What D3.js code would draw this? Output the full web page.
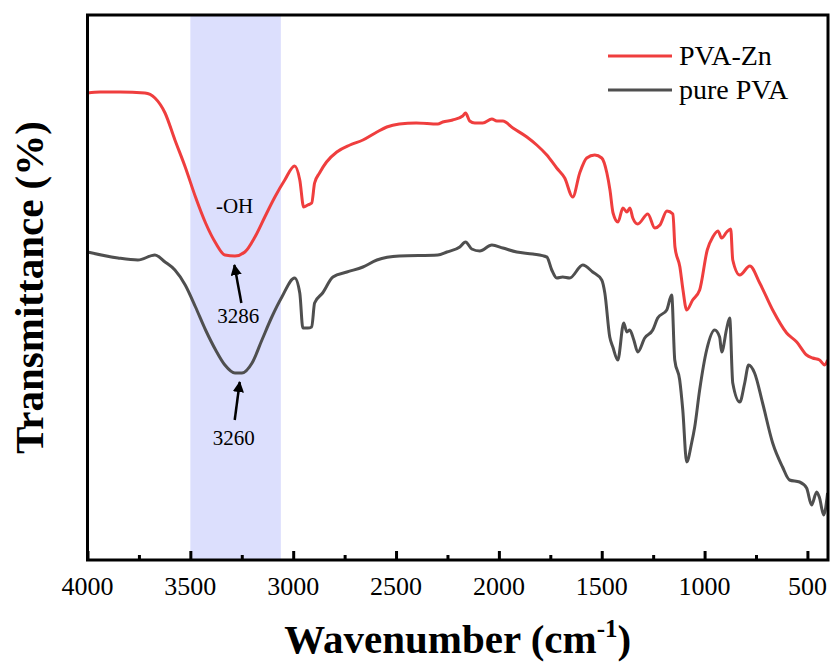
<!DOCTYPE html>
<html>
<head>
<meta charset="utf-8">
<script src="https://cdn.jsdelivr.net/npm/d3@7"></script>
<style>
  body { margin: 0; background: #fff; }
  text { font-family: "Liberation Serif", "Times New Roman", serif; fill: #000; }
</style>
</head>
<body>
<div id="ftir_chart"></div>
<script>

// PVA-Zn spectrum (wavenumber cm-1, transmittance a.u.)
let zn_wavenumber = [4000, 3939, 3842, 3721, 3672, 3623, 3575, 3525, 3475, 3426, 3377, 3332, 3283, 3235, 3186, 3138, 3089, 3041, 2993, 2968, 2949, 2929, 2910, 2896, 2872, 2838, 2788, 2724, 2661, 2593, 2545, 2484, 2402, 2297, 2273, 2225, 2176, 2162, 2142, 2117, 2078, 2034, 2010, 1981, 1932, 1864, 1816, 1767, 1719, 1680, 1641, 1607, 1573, 1534, 1500, 1475, 1460, 1445, 1421, 1397, 1378, 1363, 1349, 1325, 1276, 1242, 1217, 1183, 1154, 1144, 1120, 1105, 1087, 1058, 1024, 987, 960, 935, 917, 892, 873, 863, 829, 780, 732, 669, 601, 552, 504, 475, 441, 416, 402];
let zn_values = [46.7, 46.8, 46.8, 46.7, 46.2, 44.7, 42.0, 39.3, 36.3, 33.7, 31.7, 30.5, 30.4, 30.8, 32.3, 34.3, 36.3, 38.0, 39.4, 38.0, 35.3, 35.5, 35.7, 37.7, 38.7, 39.8, 40.8, 41.5, 42.0, 42.8, 43.3, 43.6, 43.7, 43.6, 43.8, 44.0, 44.4, 44.7, 43.9, 43.7, 43.7, 44.1, 43.9, 43.9, 43.2, 42.3, 41.5, 40.5, 39.2, 38.2, 36.3, 38.7, 40.2, 40.5, 40.2, 38.7, 37.0, 34.7, 33.8, 35.2, 34.8, 35.2, 34.2, 33.6, 34.6, 33.2, 33.5, 34.9, 34.6, 31.3, 29.3, 27.0, 25.0, 26.0, 27.0, 31.0, 32.3, 32.9, 32.2, 32.8, 33.1, 30.0, 28.5, 29.4, 27.7, 25.0, 22.7, 21.8, 20.5, 20.2, 20.0, 19.5, 20.0];

// pure PVA spectrum
let pva_wavenumber = [4000, 3852, 3755, 3672, 3623, 3575, 3525, 3475, 3426, 3377, 3332, 3283, 3249, 3200, 3152, 3104, 3055, 2993, 2968, 2953, 2929, 2910, 2896, 2857, 2807, 2739, 2661, 2593, 2484, 2297, 2253, 2190, 2162, 2132, 2093, 2034, 1981, 1913, 1835, 1767, 1743, 1719, 1690, 1656, 1592, 1544, 1500, 1485, 1461, 1446, 1422, 1393, 1378, 1364, 1344, 1325, 1291, 1252, 1228, 1184, 1160, 1145, 1121, 1106, 1087, 1063, 1048, 1024, 990, 951, 927, 917, 892, 878, 863, 829, 805, 786, 757, 718, 669, 621, 587, 538, 504, 480, 455, 441, 421, 402];
let pva_values = [30.8, 30.2, 30.0, 30.5, 29.8, 29.0, 27.5, 25.3, 23.0, 21.0, 19.5, 18.7, 18.7, 19.7, 22.0, 24.3, 26.3, 28.2, 26.7, 23.2, 23.2, 23.3, 25.7, 26.7, 28.3, 28.8, 29.3, 30.0, 30.4, 30.5, 30.8, 31.3, 31.8, 31.1, 30.9, 31.5, 31.2, 30.8, 30.6, 30.3, 29.0, 28.2, 28.3, 28.2, 29.5, 28.8, 28.0, 26.7, 22.3, 21.3, 20.0, 23.7, 22.8, 23.0, 22.0, 20.8, 22.2, 23.0, 24.2, 25.0, 26.5, 20.0, 18.0, 15.0, 9.8, 11.7, 13.3, 17.0, 21.0, 23.0, 22.3, 20.8, 23.2, 24.2, 17.7, 15.8, 17.7, 19.5, 18.7, 15.7, 11.7, 9.3, 8.0, 7.8, 7.2, 5.5, 6.8, 6.2, 4.5, 6.7];

let series_names = ["PVA-Zn", "pure PVA"];
let series_colors = ["#ef3e3e", "#4f4f4f"];

let x_major_ticks = [4000, 3500, 3000, 2500, 2000, 1500, 1000, 500];
let x_minor_ticks = [3750, 3250, 2750, 2250, 1750, 1250, 750];
let oh_band = [3500, 3060];

// peak labels: wavenumber, transmittance at arrow tip, label
let peak_wavenumber = [3286, 3260];
let peak_values = [29.7, 18.0];
let peak_labels = ["3286", "3260"];

let chart_width = 831;
let chart_height = 666;

let margin_left = 87.5;
let margin_right = 3;
let margin_top = 15;
let margin_bottom = 106;

let width = chart_width - margin_left - margin_right;
let height = chart_height - margin_top - margin_bottom;

let svg = d3.select("#ftir_chart")
            .append("svg")
            .attr("width", chart_width)
            .attr("height", chart_height)
            .append("g")
            .attr("transform", "translate(" + margin_left + "," + margin_top + ")");

let xScale = d3.scaleLinear()
                .domain([4000, 400])
                .range([0, width]);

let yScale = d3.scaleLinear()
                .domain([0, 54.5])
                .range([height, 0]);

// -OH band
svg.append("rect")
    .attr("x", xScale(oh_band[0]))
    .attr("y", 0)
    .attr("width", xScale(oh_band[1]) - xScale(oh_band[0]))
    .attr("height", height)
    .style("fill", "#dcdffd");

// spectra
let line = d3.line()
             .x(function(d) { return xScale(d[0]); })
             .y(function(d) { return yScale(d[1]); })
             .curve(d3.curveMonotoneX);

let zn_data = d3.zip(zn_wavenumber, zn_values);
let pva_data = d3.zip(pva_wavenumber, pva_values);

svg.append("path")
    .datum(pva_data)
    .attr("d", line)
    .attr("fill", "none")
    .attr("stroke", series_colors[1])
    .attr("stroke-width", 3)
    .attr("stroke-linejoin", "round");

svg.append("path")
    .datum(zn_data)
    .attr("d", line)
    .attr("fill", "none")
    .attr("stroke", series_colors[0])
    .attr("stroke-width", 3)
    .attr("stroke-linejoin", "round");

// x axis (ticks pointing inward), labels drawn separately
let x_axis = svg.append("g")
    .attr("class", "x axis")
    .attr("transform", "translate(0," + height + ")");

x_axis.call(d3.axisBottom(xScale)
        .tickValues(x_major_ticks)
        .tickSize(-9)
        .tickSizeOuter(0)
        .tickFormat(""));

let x_minor = svg.append("g")
    .attr("class", "x minor")
    .attr("transform", "translate(0," + height + ")");

x_minor.call(d3.axisBottom(xScale)
        .tickValues(x_minor_ticks)
        .tickSize(-5)
        .tickSizeOuter(0)
        .tickFormat(""));

svg.selectAll(".axis .domain, .minor .domain").remove();
svg.selectAll(".axis line, .minor line").attr("stroke", "#000").attr("stroke-width", 3);

svg.selectAll(".x_tick_label")
    .data(x_major_ticks)
    .enter()
    .append("text")
    .attr("class", "x_tick_label")
    .attr("x", function(d) { return xScale(d); })
    .attr("y", height + 35)
    .attr("text-anchor", "middle")
    .style("font-size", "26px")
    .text(function(d) { return d3.format("d")(d); });

// frame
svg.append("rect")
    .attr("x", 0)
    .attr("y", 0)
    .attr("width", width)
    .attr("height", height)
    .attr("fill", "none")
    .attr("stroke", "#000")
    .attr("stroke-width", 3);

// annotations
svg.append("text")
    .attr("x", xScale(3285))
    .attr("y", yScale(34.7))
    .attr("text-anchor", "middle")
    .style("font-size", "21px")
    .text("-OH");

svg.append("defs").append("marker")
    .attr("id", "arrow_head")
    .attr("viewBox", "0 0 10 10")
    .attr("refX", 9)
    .attr("refY", 5)
    .attr("markerWidth", 4.5)
    .attr("markerHeight", 4.5)
    .attr("orient", "auto")
    .append("path")
    .attr("d", "M0,0 L10,5 L0,10 Z")
    .attr("fill", "#000");

for (let i = 0; i < peak_wavenumber.length; i++) {
    let tip_x = xScale(peak_wavenumber[i]);
    let tip_y = yScale(peak_values[i]);
    let tail_x = i == 0 ? tip_x + 7 : tip_x - 5;
    svg.append("line")
        .attr("x1", tail_x)
        .attr("y1", tip_y + 40)
        .attr("x2", tip_x)
        .attr("y2", tip_y + 2)
        .attr("stroke", "#000")
        .attr("stroke-width", 2.5)
        .attr("marker-end", "url(#arrow_head)");
    svg.append("text")
        .attr("x", i == 0 ? tip_x + 4 : tip_x - 6)
        .attr("y", tip_y + (i == 0 ? 60 : 65))
        .attr("text-anchor", "middle")
        .style("font-size", "21px")
        .text(peak_labels[i]);
}

// legend
let legend = svg.append("g")
    .attr("transform", "translate(" + (608 - margin_left) + "," + (56 - margin_top) + ")");

series_names.forEach(function(name, i) {
    legend.append("line")
        .attr("x1", 0)
        .attr("x2", 64)
        .attr("y1", i * 34)
        .attr("y2", i * 34)
        .attr("stroke", series_colors[i])
        .attr("stroke-width", 3);
    legend.append("text")
        .attr("x", 71)
        .attr("y", i * 34 + 9)
        .style("font-size", "28px")
        .text(name);
});

// axis titles
let x_title = svg.append("text")
    .attr("x", width / 2)
    .attr("y", height + 93)
    .attr("text-anchor", "middle")
    .style("font-size", "41px")
    .style("font-weight", "bold");
x_title.append("tspan").text("Wavenumber (cm");
x_title.append("tspan").attr("dy", -16).style("font-size", "25px").text("-1");
x_title.append("tspan").attr("dy", 16).text(")");

svg.append("text")
    .attr("transform", "translate(" + (-margin_left + 43) + "," + (height / 2) + ") rotate(-90)")
    .attr("text-anchor", "middle")
    .style("font-size", "41px")
    .style("font-weight", "bold")
    .text("Transmittance (%)");

</script>
</body>
</html>
